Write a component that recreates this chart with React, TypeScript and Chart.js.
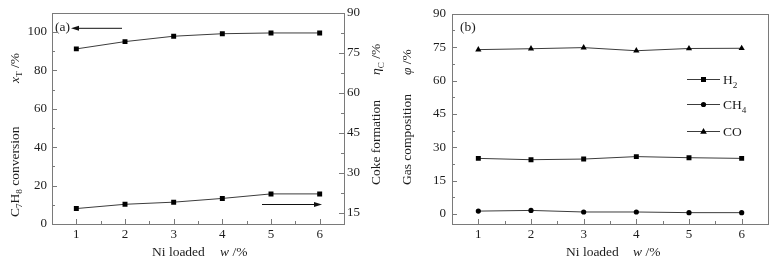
import React, { useEffect, useRef } from 'react';
import { Chart, registerables } from 'chart.js';

Chart.register(...registerables);

// ---------- data ----------
const niLoaded = [1, 2, 3, 4, 5, 6];
const conversion = [91.2, 95.0, 97.8, 99.1, 99.5, 99.5];
const cokeFormation = [16.5, 18.1, 18.9, 20.3, 22.0, 22.0];
const h2 = [25.0, 24.4, 24.7, 25.8, 25.3, 25.0];
const ch4 = [1.3, 1.6, 0.9, 0.9, 0.6, 0.6];
const co = [73.9, 74.3, 74.8, 73.4, 74.4, 74.5];

const convTicks = [0, 20, 40, 60, 80, 100];
const cokeTicks = [15, 30, 45, 60, 75, 90];
const gasTicks = [0, 15, 30, 45, 60, 75, 90];

// ---------- style ----------
const FONT = '"Liberation Serif", "Times New Roman", serif';
const AXIS = '#7a7a7a';
const TEXT = '#1c1c1c';
const LINE = '#3c3c3c';
const TICK_SIZE = 13;
const TITLE_SIZE = 13.5;

type Seg = { t: string; sub?: boolean; it?: boolean };

function drawRich(ctx: CanvasRenderingContext2D, segs: Seg[], x: number, y: number, size: number, rotate: boolean) {
  ctx.save();
  ctx.translate(x, y);
  if (rotate) ctx.rotate(-Math.PI / 2);
  ctx.fillStyle = TEXT;
  ctx.textAlign = 'left';
  ctx.textBaseline = 'alphabetic';
  let cx = 0;
  for (const s of segs) {
    const fs = s.sub ? size * 0.68 : size;
    ctx.font = `${s.it ? 'italic ' : ''}${fs}px ${FONT}`;
    ctx.fillText(s.t, cx, s.sub ? size * 0.28 : 0);
    cx += ctx.measureText(s.t).width;
  }
  ctx.restore();
}

function minorsOf(majors: number[], min: number, max: number) {
  const out: number[] = [];
  const step = majors[1] - majors[0];
  const first = majors[0] - step / 2;
  if (first > min + 0.01) out.push(first);
  for (let i = 0; i < majors.length - 1; i++) out.push((majors[i] + majors[i + 1]) / 2);
  const last = majors[majors.length - 1] + step / 2;
  if (last < max - 0.01) out.push(last);
  return out;
}

function tickMarks(ctx: CanvasRenderingContext2D, scale: any, side: 'bottom' | 'left' | 'right', majors: number[], minors: number[], ca: any) {
  ctx.save();
  ctx.strokeStyle = AXIS;
  ctx.lineWidth = 1;
  ctx.beginPath();
  const put = (v: number, len: number) => {
    const p = Math.round(scale.getPixelForValue(v)) + 0.5;
    if (side === 'bottom') {
      const y = Math.round(ca.bottom);
      ctx.moveTo(p, y);
      ctx.lineTo(p, y - len);
    } else if (side === 'left') {
      const x = Math.round(ca.left);
      ctx.moveTo(x, p);
      ctx.lineTo(x + len, p);
    } else {
      const x = Math.round(ca.right);
      ctx.moveTo(x, p);
      ctx.lineTo(x - len, p);
    }
  };
  majors.forEach((v) => put(v, 5));
  minors.forEach((v) => put(v, 3));
  ctx.stroke();
  ctx.restore();
}

function drawBox(ctx: CanvasRenderingContext2D, ca: any) {
  ctx.save();
  ctx.strokeStyle = AXIS;
  ctx.lineWidth = 1;
  const l = Math.round(ca.left) + 0.5;
  const t = Math.round(ca.top) + 0.5;
  const r = Math.round(ca.right) + 0.5;
  const b = Math.round(ca.bottom) + 0.5;
  ctx.strokeRect(l, t, r - l, b - t);
  ctx.restore();
}

function arrow(ctx: CanvasRenderingContext2D, x0: number, x1: number, y: number) {
  ctx.save();
  ctx.strokeStyle = '#111';
  ctx.fillStyle = '#111';
  ctx.lineWidth = 1;
  const dir = Math.sign(x1 - x0);
  ctx.beginPath();
  ctx.moveTo(x0, y + 0.5);
  ctx.lineTo(x1 - dir * 6, y + 0.5);
  ctx.stroke();
  ctx.beginPath();
  ctx.moveTo(x1, y + 0.5);
  ctx.lineTo(x1 - dir * 8, y + 0.5 - 2.5);
  ctx.lineTo(x1 - dir * 8, y + 0.5 + 2.5);
  ctx.closePath();
  ctx.fill();
  ctx.restore();
}

function marker(ctx: CanvasRenderingContext2D, style: string, x: number, y: number) {
  ctx.save();
  ctx.fillStyle = '#000';
  ctx.beginPath();
  if (style === 'rect') {
    ctx.rect(x - 2.5, y - 2.5, 5, 5);
  } else if (style === 'circle') {
    ctx.arc(x, y, 2.6, 0, Math.PI * 2);
  } else {
    ctx.moveTo(x, y - 3.5);
    ctx.lineTo(x + 3.3, y + 2.3);
    ctx.lineTo(x - 3.3, y + 2.3);
    ctx.closePath();
  }
  ctx.fill();
  ctx.restore();
}

const fixedTicks = (values: number[]) => (scale: any) => {
  scale.ticks = values.map((v) => ({ value: v }));
};

const tickFont = { family: FONT, size: TICK_SIZE };

function lineDataset(label: string, ys: number[], style: string, radius: number, yAxisID = 'y') {
  return {
    label,
    data: niLoaded.map((x, i) => ({ x, y: ys[i] })),
    yAxisID,
    borderColor: LINE,
    borderWidth: 1,
    backgroundColor: '#000',
    pointBackgroundColor: '#000',
    pointBorderColor: '#000',
    pointBorderWidth: 0,
    pointStyle: style,
    pointRadius: radius,
    tension: 0,
  };
}

function xScale() {
  return {
    type: 'linear',
    min: 0.5,
    max: 6.5,
    afterBuildTicks: fixedTicks(niLoaded),
    afterFit: (s: any) => { s.height = 37; },
    grid: { display: false, drawTicks: false },
    border: { display: false },
    ticks: { color: TEXT, font: tickFont, padding: 3, maxRotation: 0, autoSkip: false },
  };
}

function yScale(min: number, max: number, ticks: number[], position: string, width: number, padding: number) {
  return {
    type: 'linear',
    position,
    min,
    max,
    afterBuildTicks: fixedTicks(ticks),
    afterFit: (s: any) => { s.width = width; },
    grid: { display: false, drawTicks: false },
    border: { display: false },
    ticks: { color: TEXT, font: tickFont, padding, autoSkip: false },
  };
}

const xMinor = minorsOf(niLoaded, 0.5, 6.5);

export default function App() {
  const refA = useRef<HTMLCanvasElement>(null);
  const refB = useRef<HTMLCanvasElement>(null);

  useEffect(() => {
    const convMin = 0, convMax = 110;
    const cokeMin = 10.7, cokeMax = 90;
    const gasMin = -4.5, gasMax = 90;

    const decorA = {
      id: 'decorA',
      afterDraw(chart: any) {
        const { ctx, chartArea: ca, scales } = chart;
        drawBox(ctx, ca);
        tickMarks(ctx, scales.x, 'bottom', niLoaded, xMinor, ca);
        tickMarks(ctx, scales.y, 'left', convTicks, minorsOf(convTicks, convMin, convMax), ca);
        tickMarks(ctx, scales.y1, 'right', cokeTicks, minorsOf(cokeTicks, cokeMin, cokeMax), ca);
        // axis titles
        drawRich(ctx, [{ t: 'C' }, { t: '7', sub: true }, { t: 'H' }, { t: '8', sub: true }, { t: ' conversion' }], 18.5, 217, TITLE_SIZE, true);
        drawRich(ctx, [{ t: 'x', it: true }, { t: 'T', sub: true }, { t: ' /%' }], 18.5, 83, TITLE_SIZE, true);
        drawRich(ctx, [{ t: 'Coke formation' }], 380, 185, TITLE_SIZE, true);
        drawRich(ctx, [{ t: 'η', it: true }, { t: 'C', sub: true }, { t: ' /%' }], 380, 75, TITLE_SIZE, true);
        drawRich(ctx, [{ t: 'Ni loaded' }], 152, 255.5, TITLE_SIZE, false);
        drawRich(ctx, [{ t: 'w', it: true }, { t: ' /%' }], 220, 255.5, TITLE_SIZE, false);
        // panel label and arrows
        drawRich(ctx, [{ t: '(a)' }], ca.left + 3, ca.top + 18, TITLE_SIZE, false);
        arrow(ctx, ca.left + 70, ca.left + 19, ca.top + 15);
        arrow(ctx, ca.right - 82, ca.right - 22, ca.bottom - 20);
      },
    };

    const chartA = new Chart(refA.current as HTMLCanvasElement, {
      type: 'line',
      data: {
        datasets: [
          lineDataset('Conversion', conversion, 'rect', 3.5, 'y') as any,
          lineDataset('Coke formation', cokeFormation, 'rect', 3.5, 'y1') as any,
        ],
      },
      options: {
        responsive: false,
        animation: false,
        devicePixelRatio: 1,
        layout: { padding: { top: 9, left: 0, right: 0, bottom: 0 } },
        plugins: { legend: { display: false }, tooltip: { enabled: false }, title: { display: false } },
        scales: {
          x: xScale() as any,
          y: yScale(convMin, convMax, convTicks, 'left', 52, 5) as any,
          y1: yScale(cokeMin, cokeMax, cokeTicks, 'right', 56, 3) as any,
        },
      },
      plugins: [decorA],
    });

    const legendItems: { segs: Seg[]; style: string }[] = [
      { segs: [{ t: 'H' }, { t: '2', sub: true }], style: 'rect' },
      { segs: [{ t: 'CH' }, { t: '4', sub: true }], style: 'circle' },
      { segs: [{ t: 'CO' }], style: 'triangle' },
    ];

    const decorB = {
      id: 'decorB',
      afterDraw(chart: any) {
        const { ctx, chartArea: ca, scales } = chart;
        drawBox(ctx, ca);
        tickMarks(ctx, scales.x, 'bottom', niLoaded, xMinor, ca);
        tickMarks(ctx, scales.y, 'left', gasTicks, minorsOf(gasTicks, gasMin, gasMax), ca);
        drawRich(ctx, [{ t: 'Gas composition' }], 11, 185, TITLE_SIZE, true);
        drawRich(ctx, [{ t: 'φ', it: true }, { t: ' /%' }], 11, 75, TITLE_SIZE, true);
        drawRich(ctx, [{ t: 'Ni loaded' }], 166, 255.5, TITLE_SIZE, false);
        drawRich(ctx, [{ t: 'w', it: true }, { t: ' /%' }], 233, 255.5, TITLE_SIZE, false);
        drawRich(ctx, [{ t: '(b)' }], ca.left + 8, ca.top + 17, TITLE_SIZE, false);
        // legend
        const rows = [65, 90, 117];
        legendItems.forEach((it, i) => {
          const y = Math.round(ca.top + rows[i]) + 0.5;
          ctx.save();
          ctx.strokeStyle = LINE;
          ctx.lineWidth = 1;
          ctx.beginPath();
          ctx.moveTo(ca.right - 81, y);
          ctx.lineTo(ca.right - 48, y);
          ctx.stroke();
          ctx.restore();
          marker(ctx, it.style, ca.right - 64.5, y);
          drawRich(ctx, it.segs, ca.right - 45, y + 4.5, TITLE_SIZE, false);
        });
      },
    };

    const chartB = new Chart(refB.current as HTMLCanvasElement, {
      type: 'line',
      data: {
        datasets: [
          lineDataset('H2', h2, 'rect', 3.5) as any,
          lineDataset('CH4', ch4, 'circle', 2.6) as any,
          lineDataset('CO', co, 'triangle', 3.6) as any,
        ],
      },
      options: {
        responsive: false,
        animation: false,
        devicePixelRatio: 1,
        layout: { padding: { top: 9, left: 0, right: 7, bottom: 0 } },
        plugins: { legend: { display: false }, tooltip: { enabled: false }, title: { display: false } },
        scales: {
          x: xScale() as any,
          y: yScale(gasMin, gasMax, gasTicks, 'left', 52, 6) as any,
        },
      },
      plugins: [decorB],
    });

    return () => {
      chartA.destroy();
      chartB.destroy();
    };
  }, []);

  return (
    <div style={{ position: 'absolute', left: 0, top: 0, width: 775, height: 261, background: '#fff' }}>
      <canvas ref={refA} width={400} height={261} style={{ position: 'absolute', left: 0, top: 0, width: 400, height: 261 }} />
      <canvas ref={refB} width={375} height={261} style={{ position: 'absolute', left: 400, top: 0, width: 375, height: 261 }} />
    </div>
  );
}
